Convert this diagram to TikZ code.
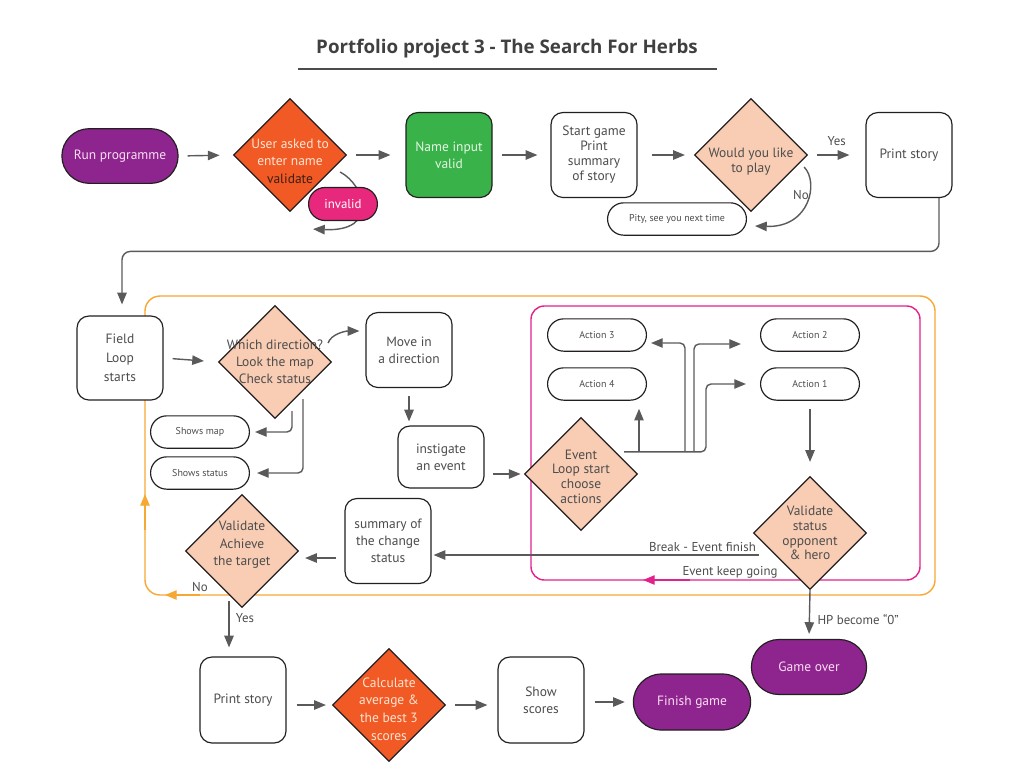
\documentclass[tikz,border=0pt]{standalone}
\usepackage{fontspec}
\setmainfont{PT Sans}
\newfontfamily\titlefont{Open Sans}
\usetikzlibrary{shapes.geometric,shapes.misc,arrows.meta,calc,backgrounds}

\definecolor{prpl}{RGB}{142,36,142}
\definecolor{orng}{RGB}{241,90,36}
\definecolor{grn}{RGB}{57,178,74}
\definecolor{rose}{RGB}{232,40,124}
\definecolor{peach}{RGB}{249,205,180}
\definecolor{arrgray}{RGB}{90,90,90}
\definecolor{txtgray}{RGB}{77,77,77}
\definecolor{edgecol}{RGB}{35,31,32}
\definecolor{loopor}{RGB}{247,168,50}
\definecolor{loopmg}{RGB}{226,33,140}
\definecolor{pinktxt}{RGB}{250,222,242}
\definecolor{peachtxt}{RGB}{253,228,210}
\definecolor{greentxt}{RGB}{228,246,228}
\definecolor{darktxt}{RGB}{60,30,20}

\tikzset{
  box/.style={draw=edgecol, line width=1pt, rounded corners=0.36cm, fill=white,
    minimum width=2.58cm, minimum height=2.55cm, align=center, text=txtgray,
    font=\fontsize{11.5}{14.5}\selectfont},
  pill/.style={rounded rectangle, draw=edgecol, line width=1pt, fill=white,
    minimum width=3.2cm, minimum height=0.97cm, text=txtgray,
    font=\fontsize{8.5}{10}\selectfont},
  term/.style={rounded rectangle, draw=edgecol, line width=1pt, fill=prpl,
    minimum width=3.72cm, minimum height=1.64cm, text=pinktxt,
    font=\fontsize{11.5}{14}\selectfont},
  dia/.style={diamond, draw=edgecol, line width=1pt, fill=peach,
    minimum size=3.39cm, inner sep=0pt},
  dtxt/.style={align=center, text=txtgray, font=\fontsize{11.5}{14.5}\selectfont},
  arr/.style={draw=arrgray, line width=1.2pt, -{Triangle[length=10pt,width=8pt]},
    shorten <=0.27cm, shorten >=0.4cm},
  frame/.style={line width=1.2pt},
  lbl/.style={text=txtgray, font=\fontsize{11}{13}\selectfont},
}

\begin{document}
\begin{tikzpicture}[x=0.03cm, y=-0.03cm]
  \useasboundingbox (0,0) rectangle (1012,781);

  \node[font=\titlefont\bfseries\fontsize{16}{19}\selectfont, text=black!75] (title)
    at (507,49) {Portfolio project 3 - The Search For Herbs};
  \draw[line width=0.9pt, black!70] (298,69) -- (717,69);

  % top row
  \node[term] (run) at (120,156) {Run programme};
  \node[dia, fill=orng, label={[dtxt, yshift=-0.2cm]center:\textcolor{peachtxt}{User asked to}\\\textcolor{peachtxt}{enter name}\\[1pt]\textcolor{darktxt}{validate}}] (user) at (290,155) {};
  \node[pill, fill=rose, text=white, minimum width=2.3cm, minimum height=0.99cm,
    font=\fontsize{11}{13}\selectfont] (invalid) at (343,204) {invalid};
  \node[box, fill=grn, text=greentxt] (name) at (449,155) {Name input\\valid};
  \node[box, font=\fontsize{11.5}{12.8}\selectfont] (start) at (594,155) {Start game\\Print\\summary\\of story};
  \node[dia, label={[dtxt, yshift=-0.2cm, font=\fontsize{11.5}{13}\selectfont]center:Would you like\\to play}] (would) at (751,155) {};
  \node[box] (pstory) at (909,155) {Print story};
  \node[pill, minimum width=4.4cm] (pity) at (677,219) {Pity, see you next time};

  % field loop
  \node[box, minimum height=2.52cm, font=\fontsize{11.5}{16}\selectfont] (field) at (120,358) {Field\\Loop\\starts};
  \node[dia, label={[dtxt]center:Which direction?\\Look the map\\Check status}] (which) at (275,362) {};
  \node[box, minimum height=2.25cm] (move) at (409,350) {Move in\\a direction};
  \node[box, minimum height=1.86cm] (inst) at (441,457) {instigate\\an event};
  \node[pill] (smap) at (200,432) {Shows map};
  \node[pill] (sstat) at (200,473) {Shows status};
  \node[box] (summary) at (388,541) {summary of\\the change\\status};
  \node[dia, label={[dtxt, yshift=0.18cm, font=\fontsize{11.5}{15}\selectfont]center:Validate\\Achieve\\the target}] (achieve) at (242,551) {};

  % event loop
  \node[dia, label={[dtxt, yshift=-0.08cm, font=\fontsize{11.5}{12.6}\selectfont]center:Event\\Loop start\\choose\\actions}] (event) at (581,474) {};
  \node[pill] (act3) at (597,335) {Action 3};
  \node[pill] (act4) at (597,384) {Action 4};
  \node[pill] (act2) at (810,335) {Action 2};
  \node[pill] (act1) at (810,384) {Action 1};
  \node[dia, label={[dtxt, font=\fontsize{11.5}{12.6}\selectfont]center:Validate\\status\\opponent\\\& hero}] (vstat) at (810,533) {};
  \node[term, minimum width=3.69cm, minimum height=1.65cm] (gover) at (809,667) {Game over};

  % bottom row
  \node[box, minimum height=2.58cm] (pstory2) at (243,700) {Print story};
  \node[dia, fill=orng, label={[dtxt, text=peachtxt, yshift=-0.12cm, font=\fontsize{11.5}{15}\selectfont]center:Calculate\\average \&\\the best 3\\scores}] (calc) at (389,705) {};
  \node[box, minimum height=2.58cm] (show) at (541,700) {Show\\scores};
  \node[term, minimum width=3.75cm, minimum height=1.68cm] (finish) at (692,702) {Finish game};

  \begin{pgfonlayer}{background}
    \draw[frame, loopor, rounded corners=0.45cm] (145,296) rectangle (935,595);
    \draw[frame, loopmg, rounded corners=0.4cm] (531,306) rectangle (920,580);
    \draw[frame, loopor, -{Triangle[length=10pt,width=8pt]}] (200,595) -- (165,595);
    \draw[frame, loopor, -{Triangle[length=10pt,width=8pt]}] (145,530) -- (145,494);
    \draw[frame, loopmg, -{Triangle[length=10pt,width=8pt]}] (690,580) -- (643,580);

    \draw[arr] (run.east) -- (user.west);
    \draw[arr, shorten >=0.45cm] (user.east) -- (name.west);
    \draw[arr, shorten >=0.39cm] (name.east) -- (start.west);
    \draw[arr, shorten <=0.42cm, shorten >=0.27cm] (start.east) -- (would.west);
    \draw[arr, shorten >=0.48cm] (would.east) -- node[lbl, above=4pt] {Yes} (pstory.west);
    \draw[arr, shorten <=0pt, shorten >=0pt] ($(user.east)+(-7,17)$)
      .. controls +(25,13) and +(67,3) .. ($(user.south)+(23,17)$);
    \draw[arr, shorten <=0pt, shorten >=0pt] ($(would.east)+(-4,12)$)
      .. controls +(15,15) and +(55,2) .. ($(pity.east)+(8,7)$);
    \node[lbl] (no1) at (801,195) {No};
    \draw[arr, rounded corners=0.25cm, shorten <=0pt, shorten >=0.33cm]
      ($(pstory.south)+(30,0)$) |- ($(field.north)+(2,-64)$) -- ($(field.north)+(2,0)$);

    \draw[arr, shorten >=0.42cm] (field.east) -- (which.west);
    \draw[arr, shorten <=0pt, shorten >=0pt] ($(which.east)+(-4,-19)$)
      .. controls +(3,-9) and +(-14,0) .. ($(move.west)+(-6,-19)$);
    \draw[arr, rounded corners=0.15cm, shorten <=0pt, shorten >=0.15cm]
      ($(which.south)+(17,-8)$) |- (smap.east);
    \draw[arr, rounded corners=0.15cm, shorten <=0pt, shorten >=0.21cm]
      ($(which.south)+(28,-20)$) |- (sstat.east);
    \draw[arr, shorten <=0.24cm, shorten >=0.12cm] (move.south) -- (move.south |- inst.north);
    \draw[arr, shorten <=0.24cm, shorten >=0.1cm] (inst.east |- event.west) -- (event.west);

    \coordinate (ev) at ($(event.north)+(43,35)$);
    \draw[arr, rounded corners=0.15cm, shorten <=0pt, shorten >=0.42cm]
      (ev) -| ($(act1.west)+(-54,0)$) -- (act1.west);
    \draw[arr, rounded corners=0.15cm, shorten <=0pt, shorten >=0.57cm]
      ($(ev)+(70,0)$) |- ($(act2.west)+(0,9)$);
    \draw[arr, rounded corners=0.15cm, shorten <=0pt, shorten >=0.12cm]
      ($(ev)+(61,0)$) |- ($(act3.east)+(0,8)$);
    \draw[arr, shorten <=0pt, shorten >=0.24cm] ($(ev)+(15,0)$) -- ($(act4.south)+(42,0)$);
    \draw[arr, shorten <=0.24cm, shorten >=0.42cm] (act1.south) -- (vstat.north);

    \coordinate (brk) at ($(vstat.west)+(6,22)$);
    \draw[arr, shorten <=0pt, shorten >=0.06cm] (brk) -- (brk -| summary.east)
      node[lbl, pos=0, anchor=south east, inner sep=2pt] {Break - Event finish};
    \node[lbl] (keep) at (730,572) {Event keep going};
    \draw[arr, shorten <=0.24cm, shorten >=0.18cm] ($(summary.west)+(0,17)$) -- ($(achieve.east)+(0,7)$);
    \node[lbl] (no2) at (200,587) {No};

    \draw[arr, shorten <=0pt, shorten >=0.15cm] (vstat.south) -- node[lbl, right=3pt, pos=0.6] {HP become “0”} (gover.north);
    \draw[arr, shorten <=0pt, shorten >=0.27cm] ($(achieve.south)+(-13,-7)$)
      -- node[lbl, right=2pt, pos=0.3] {Yes} ($(pstory2.north)+(-14,0)$);

    \draw[arr, shorten <=0.3cm, shorten >=0.18cm] (pstory2.east |- calc.west) -- (calc.west);
    \draw[arr, shorten <=0.27cm, shorten >=0.3cm] (calc.east) -- (calc.east -| show.west);
    \draw[arr, shorten <=0.3cm, shorten >=0.24cm] (show.east |- finish.west) -- (finish.west);
  \end{pgfonlayer}
\end{tikzpicture}
\end{document}
